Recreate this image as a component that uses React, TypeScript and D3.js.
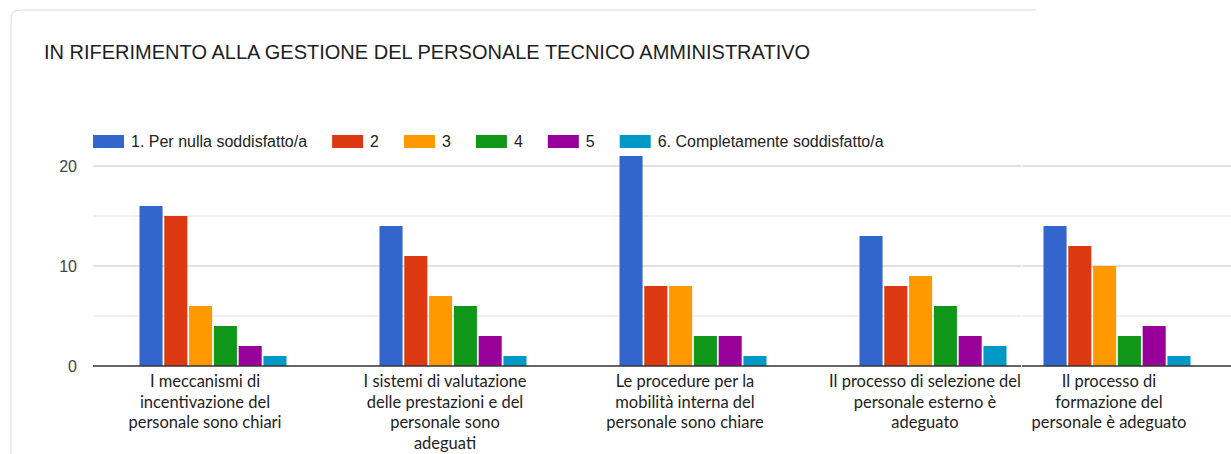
import React from "react";
import * as d3 from "d3";

const title = "IN RIFERIMENTO ALLA GESTIONE DEL PERSONALE TECNICO AMMINISTRATIVO";
const categories = [
  "I meccanismi di incentivazione del personale sono chiari",
  "I sistemi di valutazione delle prestazioni e del personale sono adeguati",
  "Le procedure per la mobilità interna del personale sono chiare",
  "Il processo di selezione del personale esterno è adeguato",
  "Il processo di formazione del personale è adeguato",
];
const categoryLines = [
  ["I meccanismi di", "incentivazione del", "personale sono chiari"],
  ["I sistemi di valutazione", "delle prestazioni e del", "personale sono", "adeguati"],
  ["Le procedure per la", "mobilità interna del", "personale sono chiare"],
  ["Il processo di selezione del", "personale esterno è", "adeguato"],
  ["Il processo di", "formazione del", "personale è adeguato"],
];
const seriesNames = [
  "1. Per nulla soddisfatto/a",
  "2",
  "3",
  "4",
  "5",
  "6. Completamente soddisfatto/a",
];
const values = [
  [16, 15, 6, 4, 2, 1],
  [14, 11, 7, 6, 3, 1],
  [21, 8, 8, 3, 3, 1],
  [13, 8, 9, 6, 3, 2],
  [14, 12, 10, 3, 4, 1],
];
const colors = ["#3366cc", "#dc3912", "#ff9900", "#109618", "#990099", "#0099c6"];
const yTickLabels = [0, 10, 20];
const gridValues = [0, 5, 10, 15, 20];

const W = 1231;
const H = 454;

function measure(text: string, font: string): number {
  const c = document.createElement("canvas");
  const ctx = c.getContext("2d")!;
  ctx.font = font;
  return ctx.measureText(text).width;
}

const y = d3.scaleLinear().domain([0, 20]).range([366, 166]);
const x0 = d3.scaleBand<string>().domain(categories).range([93, 93 + 240 * 5]).padding(0);
const x1 = d3.scaleBand<string>().domain(seriesNames).range([46.5, 193.5]).paddingInner(0.07).paddingOuter(0);

const labelFont = "Lato, 'Open Sans', sans-serif";
const axisFont = "'Liberation Sans', Arial, sans-serif";

function Panel({ shift, clipId, show }: { shift: number; clipId: string; show: number[] }) {
  return (
    <g clipPath={`url(#${clipId})`}>
      <g transform={`translate(${shift},0)`}>
        {gridValues.filter((v) => v !== 0).map((v) => (
          <line
            key={v}
            x1={93 - shift}
            x2={W - shift}
            y1={y(v)}
            y2={y(v)}
            stroke={v % 10 === 0 ? "#d6d6d6" : "#ebebeb"}
            strokeWidth={1.3}
          />
        ))}
        {categories.map((cat, ci) =>
          show.includes(ci) ? (
            <g key={cat} transform={`translate(${x0(cat)},0)`}>
              {seriesNames.map((s, si) => (
                <rect
                  key={s}
                  x={x1(s)}
                  width={x1.bandwidth()}
                  y={y(values[ci][si])}
                  height={y(0) - y(values[ci][si])}
                  fill={colors[si]}
                />
              ))}
              {categoryLines[ci].map((ln, li) => (
                <text
                  key={li}
                  x={x0.bandwidth() / 2 - 8}
                  y={387 + li * 20.5}
                  textAnchor="middle"
                  fontFamily={labelFont}
                  fontSize={16.5}
                  fill="#1e1e1e"
                >
                  {ln}
                </text>
              ))}
            </g>
          ) : null
        )}
        <line x1={93 - shift} x2={W - shift} y1={y(0)} y2={y(0)} stroke="#333" strokeWidth={1.5} />
      </g>
    </g>
  );
}

export default function App() {
  const legendFont = `16px ${axisFont}`;
  let lx = 93;
  const legendItems = seriesNames.map((s, i) => {
    const item = { s, i, x: lx };
    lx += 31 + 7 + measure(s, legendFont) + 25;
    return item;
  });
  return (
    <svg
      width={W}
      height={H}
      style={{ position: "absolute", left: 0, top: 0, background: "#fff" }}
    >
      <defs>
        <clipPath id="p1">
          <rect x={0} y={0} width={1021} height={H} />
        </clipPath>
        <clipPath id="p2">
          <rect x={1022} y={0} width={W - 1022} height={H} />
        </clipPath>
      </defs>
      <rect x={0} y={0} width={W} height={H} fill="#fff" />
      <path d={`M11,${H + 5} L11,19 Q11,10 20,10 L1036,10`} fill="none" stroke="#dadce0" strokeWidth={1} />
      <text x={44} y={59} fontFamily={axisFont} fontSize={20} fill="#202124">
        {title}
      </text>
      {legendItems.map(({ s, i, x }) => (
        <g key={s}>
          <rect x={x} y={135} width={31} height={13} fill={colors[i]} />
          <text x={x + 38} y={141.5} dy="0.35em" fontFamily={axisFont} fontSize={16} fill="#222">
            {s}
          </text>
        </g>
      ))}
      {yTickLabels.map((v) => (
        <text key={v} x={77} y={y(v)} dy="0.35em" textAnchor="end" fontFamily={axisFont} fontSize={16} fill="#444">
          {v}
        </text>
      ))}
      <Panel shift={0} clipId="p1" show={[0, 1, 2, 3]} />
      <Panel shift={-56} clipId="p2" show={[4]} />
    </svg>
  );
}
